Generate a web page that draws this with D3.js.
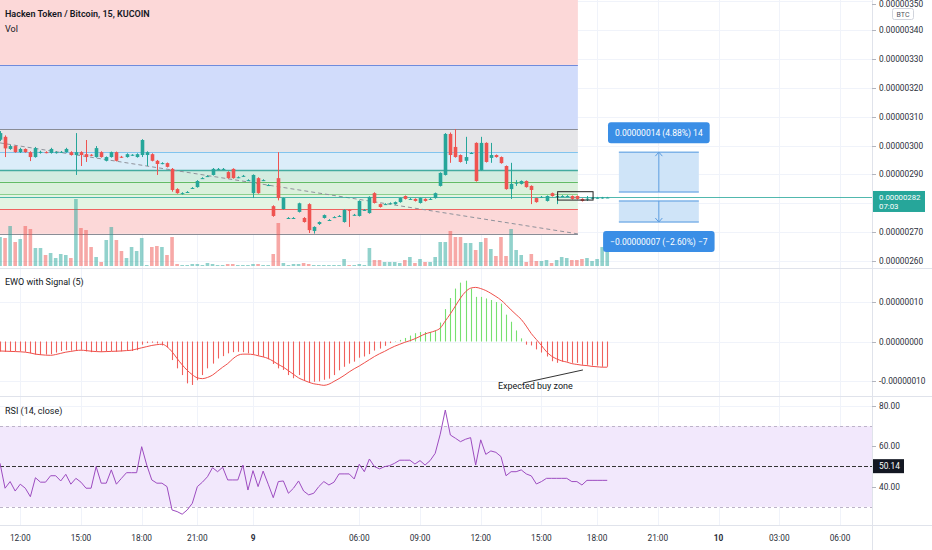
<!DOCTYPE html>
<html><head><meta charset="utf-8">
<script src="https://cdn.jsdelivr.net/npm/d3@7"></script>
<style>
html,body{margin:0;padding:0;background:#fff;overflow:hidden;}
svg{display:block;font-family:Roboto,"Liberation Sans",sans-serif;}
</style></head><body>
<svg id="c" width="932" height="550"></svg>
<script>
// ---------------- DATA (prices in satoshi = 1e-8 BTC) ----------------
const open  = [302,303,298.8,299.8,297.7,298.8,297.7,296,297.6,297.7,297.4,297.6,297.8,297.7,297.7,296.7,297.7,297,296.8,296,297.7,294.7,296,297.7,296.1,296,296.7,296,296.7,296.7,297,294.7,293.9,293.9,291.9,284.9,283.5,283.9,285.3,285.6,288.7,289.4,289.8,291.9,291.9,290.8,291.9,289,289.5,288,283.5,288.7,288,286.3,279,288.7,278,274.9,274.9,277,274.9,279.7,270.4,272.8,274.9,274.2,275.2,275.6,273.5,277.7,276,275.6,277.7,276.6,283.5,279.7,279.7,280,279.7,280.4,282.5,281.5,281.5,280.1,281.5,281.5,281.8,286,289.8,304,299.5,296.7,294.7,297.4,300.9,291.5,300.9,295.7,296.7,296,292.9,284.9,287,286.7,287.7,286,281.8,282.2,280.8,283.5,282.5,282.5,282.5,282.5,282.5,281.5,281.5,281.8,281.9,281.9,282];
const high  = [305,303.5,300.2,300,299.2,299,298,299.5,298.2,298,299.2,298,298.1,299.2,298,304.3,298,301.9,297,299.8,298,296.2,297.9,297.9,296.4,297.3,297,297.3,302.2,298,297.3,295,294.2,294.1,292.2,285.2,283.8,284.2,285.6,288,289,289.7,292.2,292.2,292.2,291.1,292.1,289.3,289.8,288.3,290,289,288.3,286.6,279.3,297.7,282,275.2,275.2,280.2,275.2,280,272,273.7,276.1,274.5,275.5,275.9,277.9,277.9,276.3,281,278,282.4,283.8,279.9,280,280.3,280.6,282,282.7,281.8,281.7,282,281.7,281.8,283.7,290.7,304.3,304.5,305.7,296.9,303,297.7,301.1,303,301.1,300.9,296.9,296.2,293.1,294,288,287.9,287.9,286.2,282,282.5,282.7,283.7,283.5,282.8,282.8,282.7,282.7,281.7,282.5,282.1,282.2,282.2,282.2];
const low   = [301.5,296,298.5,297.5,297.4,297.5,294.6,295.8,297.2,297.3,297.2,297.2,297.4,297.5,296.5,289.8,292.9,294.3,296.3,295.8,295.8,294.5,295.8,294.5,295.7,295.8,296.4,295.8,296,292.9,294.5,289.8,293.5,292.4,284,283.3,283,283.6,285,285.4,288.4,289.1,289.6,291.6,291.6,288.5,288.5,288.7,289.2,287.7,281.8,283.3,287.7,286,275.3,281,277.8,274.6,274.6,276.8,273.3,269.7,269.5,272.5,274.7,273.9,274.9,275.3,273.3,271.8,275.7,275.4,277.4,276.4,279.9,278.5,279.4,279.7,279.5,280.2,281.3,281.2,280.6,279.9,280.6,281.2,281.6,285.8,289.6,294,295.8,294.1,293.6,297.1,287.5,291.3,294.1,294,295.8,293.7,284.7,281.5,286,286.5,285.4,279.7,280.2,281.9,280.6,282.3,279.7,282.2,282.2,281.3,281.3,280.6,280.8,281.5,281.6,281.6,281.8];
const close = [304.3,299,299.8,297.7,298.8,297.7,296,299.1,297.8,297.6,298.8,297.7,297.8,298.8,296.7,297.7,296.7,296,296.6,299.1,296,296,297.7,294.7,296,297,296.8,297,301.9,297.7,294.7,293.6,293.9,292.6,284.6,283.5,283.5,283.9,285.3,287.7,288.7,289.4,291.9,291.9,291.9,288.7,288.7,289,289.5,288,289.8,283.5,288,286.3,275.6,281.8,281.8,274.9,274.9,280,273.5,270.7,271.8,273.5,275.9,274.2,275.2,275.6,277.7,277.6,276,280.8,277.7,282.2,280.1,278.7,279.7,280,280.4,281.8,281.5,281.5,280.8,281.8,280.8,281.5,283.5,290.5,304,296.7,296,294.3,296,297.4,287.7,300.9,294.3,296.7,296,293.9,284.9,286.7,287.1,287.7,285.6,284.6,280.4,282.2,282.5,282.5,282.5,282.5,282.5,281.5,281.5,280.8,281.6,281.9,281.9,282,282];
const volume = [29,28,40,24,27,40,37,18,18,11,13,8,12,11,8,67,38,36,19,9,4,26,39,26,15,8,19,15,28,1,19,20,19,11,29,2,1,1,2,2,1,3,2,1,1,2,2,1,1,1,2,2,1,1,12,43,3,1,2,2,3,2,1,1,1,1,1,1,7,1,1,2,1,18,6,6,4,4,4,3,6,9,3,7,4,4,9,24,24,35,29,29,23,23,16,24,28,17,10,29,10,37,16,11,4,12,5,5,6,3,6,9,8,6,6,7,8,5,7,19,14];
const ewo = [-2.5,-2.6,-2.5,-2.4,-2.5,-2.6,-3.0,-3.3,-3.4,-3.3,-3.2,-2.8,-2.4,-2.2,-2.3,-2.2,-2.1,-2.5,-2.7,-2.4,-2.6,-2.5,-2.4,-2.6,-2.5,-2.3,-2.4,-2.2,-0.8,-0.4,-0.3,-0.5,-1.0,-1.5,-4.7,-6.8,-8.5,-10.6,-11.0,-9.8,-8.5,-6.8,-5.6,-4.3,-3.7,-3.0,-2.7,-2.6,-2.7,-3.0,-3.2,-3.5,-3.9,-4.5,-5.7,-6.8,-7.2,-8.5,-9.3,-8.5,-9.8,-10.5,-10.2,-10.1,-9.7,-9.4,-8.5,-7.3,-6.4,-5.6,-5.1,-4.1,-3.8,-3.2,-2.3,-1.8,-1.1,-0.4,0.1,0.4,0.9,1.5,2.1,2.4,2.4,2.4,2.8,4.8,8.2,11.0,13.4,14.9,15.4,13.4,11.3,11.3,10.9,10.5,10.0,9.6,6.8,5.0,2.8,0.8,-0.8,-1.0,-2.0,-2.8,-3.8,-5.0,-5.4,-5.1,-5.1,-5.4,-5.4,-5.9,-5.9,-6.1,-6.1,-6.4,-6.4];
const signal = [-2.4,-2.45,-2.5,-2.55,-2.6,-2.7,-2.9,-3.2,-3.35,-3.45,-3.5,-3.3,-3.0,-2.7,-2.5,-2.3,-2.2,-2.3,-2.45,-2.55,-2.6,-2.55,-2.5,-2.45,-2.4,-2.3,-2.2,-1.9,-1.6,-1.3,-1.0,-0.8,-0.7,-1.3,-2.6,-4.3,-5.9,-7.3,-8.4,-9.2,-9.4,-9.1,-8.5,-7.5,-6.5,-5.6,-4.4,-3.5,-3.2,-3.2,-3.3,-3.6,-3.9,-4.3,-5.0,-5.8,-6.5,-7.4,-8.3,-9.2,-9.8,-10.3,-10.7,-10.9,-11.1,-10.8,-10.1,-9.4,-8.6,-7.7,-6.9,-6.2,-5.4,-4.6,-3.8,-3.1,-2.5,-1.8,-1.2,-0.7,-0.2,0.2,0.7,1.3,1.9,2.3,2.7,3.4,5.2,7.0,9.0,11.0,12.6,13.5,13.7,13.4,12.9,12.2,11.4,10.5,9.3,8.0,6.8,5.6,3.9,2.0,0.5,-1.0,-2.6,-3.7,-4.4,-4.9,-5.2,-5.6,-5.8,-6.0,-6.1,-6.3,-6.4,-6.5,-6.5];
const rsi = [51.6,39.2,42.5,37.8,41.2,39.2,35.0,44.4,42.2,42.2,45.4,45.4,42.8,46.1,41.2,44.1,42.2,39.2,39.2,49.9,41.7,41.7,48.3,41.2,44.1,46.9,46.9,46.9,59.8,50.7,43.3,41.7,41.7,40.0,28.4,27.6,26.3,28.4,31.7,40.0,42.2,44.9,49.4,47.4,49.6,43.3,43.3,43.3,50.7,38.3,47.9,40.0,47.7,41.2,34.5,42.5,42.8,36.7,39.2,42.8,37.8,35.9,36.7,40.0,42.5,40.8,42.2,46.3,46.3,46.3,43.8,51.1,47.4,53.7,49.9,48.8,49.9,50.4,51.6,53.1,53.1,53.1,51.2,52.9,50.7,52.9,56.5,66.0,78.0,65.6,64.0,62.3,63.5,64.3,50.7,63.2,56.0,57.7,57.0,54.9,45.4,47.4,47.4,48.3,46.3,45.3,41.3,42.5,44.1,44.1,44.1,44.1,44.1,42.5,42.5,40.8,43.1,43.1,43.1,43.1,43.1];

const timeLabels = ["12:00","15:00","18:00","21:00","9","06:00","09:00","12:00","15:00","18:00","21:00","10","03:00","06:00"];
const timeBars   = [4,16,28,39,50,71,83,95,107,118,130,142,154,166];
const dayLabels  = ["9","10"];
const priceTicks = [350,340,330,320,310,300,290,270,260];
const priceGrid  = [350,340,330,320,310,300,290,280,270,260];
const ewoTicks   = [10,0,-10];
const rsiTicks   = [80,60,40];
const rsiBands   = [70,50,30];

const fibPrices  = [364.4,327.9,305.7,297.7,291.5,287.4,283.2,278.0,269.4];
const fibFills   = ["#fcd8d8","#d1dcfb","#e5e5e8","#dbedf9","#d3ece0","#dbf0dc","#e3f4e3","#fcd8d8"];
const fibLines   = ["none","#6f8bdc","#8a8d96","#80c4ee","#44ab9f","#63bb66","#8ccf8d","#ef6360","#8a8d96"];
const fibSpan    = [-5,114.2];
const trendBars  = [0,114.2];
const trendPrices= [300.9,269.4];
const boxBars    = [110.2,117.2];
const boxPrices  = [284.0,281.1];
const lastPrice  = 282;
const lastTimer  = "07:03";
const lastRsi    = 50.14;
const measureBars = [122.3,138.1];
const measureUp   = {from:283.9,to:297.7,label:"0.00000014 (4.88%) 14"};
const measureDown = {from:280.8,to:273.5,label:"\u22120.00000007 (\u22122.60%) \u22127"};
const note = {text:"Expected buy zone", bar:98.4, value:-12.1, lineFrom:[103.4,-10.5], lineTo:[115.2,-7.2]};
const titles = {main:"Hacken Token / Bitcoin, 15, KUCOIN", vol:"Vol", ewo:"EWO with Signal (5)", rsi:"RSI (14, close)"};

// ---------------- LAYOUT ----------------
const W=932, H=550, PR=872;
const UP="#26a69a", DN="#ef5350";
const svg=d3.select('#c');
const x=d3.scaleLinear().domain([0,166]).range([0,840]);
const yP=d3.scaleLinear().domain([260,340]).range([261,30]);
const yV=d3.scaleLinear().domain([0,100]).range([266,166]);
const yE=d3.scaleLinear().domain([-10,10]).range([381,302]);
const yR=d3.scaleLinear().domain([40,80]).range([486.6,406]);
const fmt8=v=>(v/1e8).toFixed(8);
const idx=d3.range(open.length);

const defs=svg.append('defs');
function clip(id,y0,h){defs.append('clipPath').attr('id',id).append('rect').attr('x',0).attr('y',y0).attr('width',PR).attr('height',h);}
clip('cm',0,268);clip('ce',268,128);clip('cr',396,129);

svg.append('rect').attr('width',W).attr('height',H).attr('fill','#fff');

// grid
const grid=svg.append('g').attr('stroke','#f0f3fa').attr('stroke-width',1);
timeBars.forEach(b=>{const xx=Math.round(x(b))+0.5; if(xx<PR) grid.append('line').attr('x1',xx).attr('x2',xx).attr('y1',0).attr('y2',525);});
priceGrid.forEach(p=>grid.append('line').attr('x1',0).attr('x2',PR).attr('y1',Math.round(yP(p))+0.5).attr('y2',Math.round(yP(p))+0.5));
ewoTicks.forEach(v=>grid.append('line').attr('x1',0).attr('x2',PR).attr('y1',Math.round(yE(v))+0.5).attr('y2',Math.round(yE(v))+0.5));
rsiTicks.forEach(v=>grid.append('line').attr('x1',0).attr('x2',PR).attr('y1',Math.round(yR(v))+0.5).attr('y2',Math.round(yR(v))+0.5));

// ---------------- MAIN PANE ----------------
const gM=svg.append('g').attr('clip-path','url(#cm)');
for(let k=0;k<fibFills.length;k++){
  gM.append('rect').attr('x',x(fibSpan[0])).attr('width',x(fibSpan[1])-x(fibSpan[0]))
    .attr('y',yP(fibPrices[k])).attr('height',yP(fibPrices[k+1])-yP(fibPrices[k])).attr('fill',fibFills[k]);
}
fibPrices.forEach((p,k)=>{ if(fibLines[k]==="none") return;
  gM.append('line').attr('x1',x(fibSpan[0])).attr('x2',x(fibSpan[1])).attr('y1',Math.round(yP(p))+0.5).attr('y2',Math.round(yP(p))+0.5)
    .attr('stroke',fibLines[k]).attr('stroke-width',k===4?1.6:1);
});
gM.append('line').attr('x1',x(trendBars[0])).attr('y1',yP(trendPrices[0])).attr('x2',x(trendBars[1])).attr('y2',yP(trendPrices[1]))
  .attr('stroke','#8f929b').attr('stroke-width',1).attr('stroke-dasharray','4,3');
gM.selectAll('rect.vol').data(idx).enter().append('rect').attr('class','vol')
  .attr('x',i=>x(i)-1.8).attr('width',3.6).attr('y',i=>yV(volume[i])).attr('height',i=>yV(0)-yV(volume[i]))
  .attr('fill',i=>close[i]>=open[i]?UP:DN).attr('fill-opacity',0.5);
gM.append('line').attr('x1',0).attr('x2',PR).attr('y1',Math.round(yP(lastPrice))+0.5).attr('y2',Math.round(yP(lastPrice))+0.5)
  .attr('stroke',UP).attr('stroke-width',1).attr('stroke-opacity',0.8);
const cg=gM.selectAll('g.cdl').data(idx).enter().append('g');
cg.append('line').attr('x1',i=>Math.round(x(i))+0.5).attr('x2',i=>Math.round(x(i))+0.5)
  .attr('y1',i=>yP(high[i])).attr('y2',i=>yP(low[i])).attr('stroke',i=>close[i]>=open[i]?UP:DN).attr('stroke-width',1);
cg.append('rect').attr('x',i=>Math.round(x(i))-1.3).attr('width',3.6)
  .attr('y',i=>yP(Math.max(open[i],close[i]))).attr('height',i=>Math.max(1,yP(Math.min(open[i],close[i]))-yP(Math.max(open[i],close[i]))))
  .attr('fill',i=>close[i]>=open[i]?UP:DN);
gM.append('rect').attr('x',x(boxBars[0])).attr('y',yP(boxPrices[0])).attr('width',x(boxBars[1])-x(boxBars[0])).attr('height',yP(boxPrices[1])-yP(boxPrices[0]))
  .attr('fill','none').attr('stroke','#222').attr('stroke-width',1);

function measure(m,up){
  const x1=x(measureBars[0]),x2=x(measureBars[1]),xc=(x1+x2)/2;
  const yf=yP(m.from),yt=yP(m.to);
  const top=Math.min(yf,yt),bot=Math.max(yf,yt);
  gM.append('rect').attr('x',x1).attr('y',top).attr('width',x2-x1).attr('height',bot-top).attr('fill','#cfe4f8');
  [top,bot].forEach(yy=>gM.append('line').attr('x1',x1).attr('x2',x2).attr('y1',yy).attr('y2',yy).attr('stroke','#7fb3e8').attr('stroke-width',1.5));
  gM.append('line').attr('x1',xc).attr('x2',xc).attr('y1',yf).attr('y2',yt).attr('stroke','#5d9de0').attr('stroke-width',1);
  const d=up?-1:1;
  gM.append('path').attr('d',`M${xc-3.5},${yt-d*4}L${xc},${yt}L${xc+3.5},${yt-d*4}`).attr('fill','none').attr('stroke','#5d9de0').attr('stroke-width',1);
  const t=gM.append('text').attr('x',xc).attr('text-anchor','middle').attr('font-size',8.5).attr('fill','#fff').text(m.label);
  const tw=t.node().getComputedTextLength()+14;
  const by=up?top-9-21:bot+9;
  gM.append('rect').attr('x',xc-tw/2).attr('y',by).attr('width',tw).attr('height',21).attr('rx',3).attr('fill','#3a8ee6');
  t.attr('y',by+13.8).raise();
}
measure(measureUp,true);
measure(measureDown,false);

svg.append('text').attr('x',5).attr('y',17).attr('font-size',9).attr('font-weight',600).attr('fill','#131722').text(titles.main);
svg.append('text').attr('x',5).attr('y',32).attr('font-size',9).attr('fill','#131722').text(titles.vol);

// ---------------- EWO PANE ----------------
const gE=svg.append('g').attr('clip-path','url(#ce)');
gE.selectAll('line.h').data(idx).enter().append('line')
  .attr('x1',i=>Math.round(x(i))+0.5).attr('x2',i=>Math.round(x(i))+0.5).attr('y1',yE(0)).attr('y2',i=>yE(ewo[i]))
  .attr('stroke',i=>ewo[i]>=0?'#76e06f':'#f0605c').attr('stroke-width',1.1);
gE.append('path').datum(idx).attr('d',d3.line().x(i=>x(i)).y(i=>yE(signal[i])).curve(d3.curveMonotoneX))
  .attr('fill','none').attr('stroke','#ef4f4a').attr('stroke-width',1);
gE.append('line').attr('x1',x(note.lineFrom[0])).attr('y1',yE(note.lineFrom[1])).attr('x2',x(note.lineTo[0])).attr('y2',yE(note.lineTo[1]))
  .attr('stroke','#333').attr('stroke-width',1);
gE.append('text').attr('x',x(note.bar)).attr('y',yE(note.value)).attr('font-size',9).attr('fill','#131722').text(note.text);
svg.append('text').attr('x',5).attr('y',285).attr('font-size',9).attr('fill','#131722').text(titles.ewo);

// ---------------- RSI PANE ----------------
const gR=svg.append('g').attr('clip-path','url(#cr)');
gR.append('rect').attr('x',0).attr('width',PR).attr('y',yR(rsiBands[0])).attr('height',yR(rsiBands[2])-yR(rsiBands[0])).attr('fill','#f2e8fc');
[rsiBands[0],rsiBands[2]].forEach(v=>gR.append('line').attr('x1',0).attr('x2',PR).attr('y1',Math.round(yR(v))+0.5).attr('y2',Math.round(yR(v))+0.5)
  .attr('stroke','#bdb3c9').attr('stroke-dasharray','3,3'));
gR.append('line').attr('x1',0).attr('x2',PR).attr('y1',Math.round(yR(rsiBands[1]))+0.5).attr('y2',Math.round(yR(rsiBands[1]))+0.5)
  .attr('stroke','#333').attr('stroke-dasharray','4,2');
gR.append('path').datum(idx).attr('d',d3.line().x(i=>x(i)).y(i=>yR(rsi[i])))
  .attr('fill','none').attr('stroke','#9d4cc0').attr('stroke-width',1);
svg.append('text').attr('x',5).attr('y',414).attr('font-size',9).attr('fill','#131722').text(titles.rsi);

// ---------------- SEPARATORS / AXES ----------------
const sep=svg.append('g').attr('stroke','#e0e3eb').attr('stroke-width',1);
sep.append('line').attr('x1',PR+0.5).attr('x2',PR+0.5).attr('y1',0).attr('y2',H);
[268.5,396.5,525.5].forEach(yy=>sep.append('line').attr('x1',0).attr('x2',W).attr('y1',yy).attr('y2',yy));

const ax=svg.append('g').attr('font-size',8.3).attr('fill','#2a2e39');
function tick(yy,label){
  ax.append('line').attr('x1',PR).attr('x2',PR+4).attr('y1',Math.round(yy)+0.5).attr('y2',Math.round(yy)+0.5).attr('stroke','#b2b5be');
  ax.append('text').attr('x',879).attr('y',yy+3).text(label);
}
priceTicks.forEach(p=>tick(Math.max(yP(p),4),fmt8(p)));
ewoTicks.forEach(v=>tick(yE(v),fmt8(v)));
rsiTicks.forEach(v=>tick(yR(v),v.toFixed(2)));
ax.append('rect').attr('x',892.5).attr('y',8.5).attr('width',21).attr('height',11).attr('rx',2).attr('fill','#fff').attr('stroke','#d1d4dc');
ax.append('text').attr('x',903).attr('y',16.5).attr('text-anchor','middle').attr('font-size',7).attr('fill','#50535e').text('BTC');
const lpY=yP(lastPrice);
ax.append('rect').attr('x',PR+1).attr('y',lpY-6.5).attr('width',52).attr('height',21).attr('fill',UP);
ax.append('text').attr('x',879).attr('y',lpY+2.8).attr('font-size',7.8).attr('fill','#fff').text(fmt8(lastPrice));
ax.append('text').attr('x',879).attr('y',lpY+11.8).attr('font-size',7.8).attr('fill','#fff').text(lastTimer);
const lrY=yR(lastRsi);
ax.append('rect').attr('x',PR+1).attr('y',lrY-7).attr('width',31).attr('height',14).attr('fill','#131722');
ax.append('text').attr('x',879).attr('y',lrY+3).attr('fill','#fff').text(lastRsi.toFixed(2));

timeLabels.forEach((t,k)=>{
  svg.append('text').attr('x',x(timeBars[k])).attr('y',541).attr('text-anchor','middle').attr('font-size',8.3)
    .attr('font-weight',dayLabels.includes(t)?700:400).attr('fill','#2a2e39').text(t);
});
</script>
</body></html>
